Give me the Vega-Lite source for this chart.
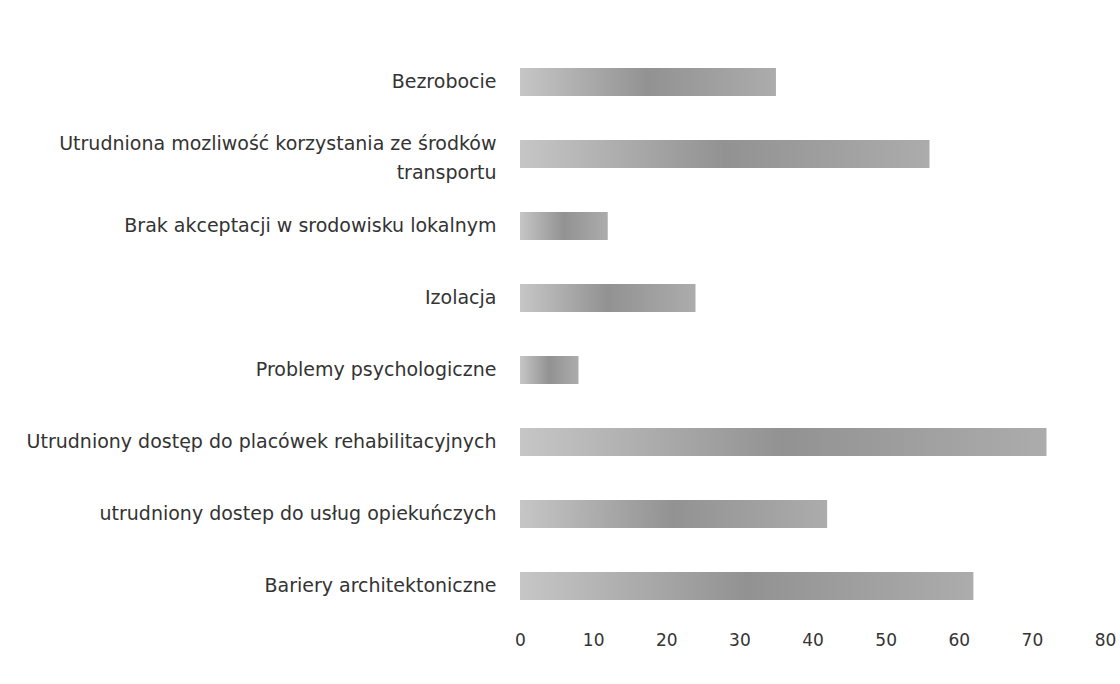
{
  "$schema": "https://vega.github.io/schema/vega-lite/v6.json",
  "autosize": {"type": "none"},
  "padding": {"left": 520, "top": 46, "right": 15, "bottom": 62},
  "width": 585,
  "height": 576,
  "background": "white",
  "config": {"view": {"stroke": null}},
  "data": {
    "values": [
      {"kategoria": "Bezrobocie", "wartosc": 35},
      {"kategoria": "Utrudniona mozliwość korzystania ze środków transportu", "wartosc": 56},
      {"kategoria": "Brak akceptacji w srodowisku lokalnym", "wartosc": 12},
      {"kategoria": "Izolacja", "wartosc": 24},
      {"kategoria": "Problemy psychologiczne", "wartosc": 8},
      {"kategoria": "Utrudniony dostęp do placówek rehabilitacyjnych", "wartosc": 72},
      {"kategoria": "utrudniony dostep do usług opiekuńczych", "wartosc": 42},
      {"kategoria": "Bariery architektoniczne", "wartosc": 62}
    ]
  },
  "mark": {
    "type": "bar",
    "color": {
      "gradient": "linear",
      "x1": 0, "x2": 1, "y1": 0, "y2": 0,
      "stops": [
        {"offset": 0, "color": "#c6c6c6"},
        {"offset": 0.5, "color": "#929292"},
        {"offset": 1, "color": "#acacac"}
      ]
    }
  },
  "encoding": {
    "y": {
      "field": "kategoria",
      "type": "nominal",
      "sort": null,
      "scale": {"paddingInner": 0.61, "paddingOuter": 0.305},
      "axis": {
        "title": null,
        "domain": false,
        "ticks": false,
        "labelPadding": 24,
        "labelFont": "DejaVu Sans",
        "labelFontSize": 19,
        "labelColor": "#333333",
        "labelLimit": 600,
        "labelLineHeight": 29,
        "labelOffset": {"condition": {"test": "datum.value == 'Utrudniona mozliwość korzystania ze środków transportu'", "value": -10}, "value": 0},
        "labelExpr": "datum.label == 'Utrudniona mozliwość korzystania ze środków transportu' ? ['Utrudniona mozliwość korzystania ze środków', 'transportu'] : datum.label"
      }
    },
    "x": {
      "field": "wartosc",
      "type": "quantitative",
      "scale": {"domain": [0, 80], "nice": false},
      "axis": {
        "title": null,
        "domain": false,
        "ticks": false,
        "grid": false,
        "values": [0, 10, 20, 30, 40, 50, 60, 70, 80],
        "labelPadding": 10,
        "labelFont": "DejaVu Sans",
        "labelFontSize": 17,
        "labelColor": "#333333",
        "labelFlush": false
      }
    }
  }
}
